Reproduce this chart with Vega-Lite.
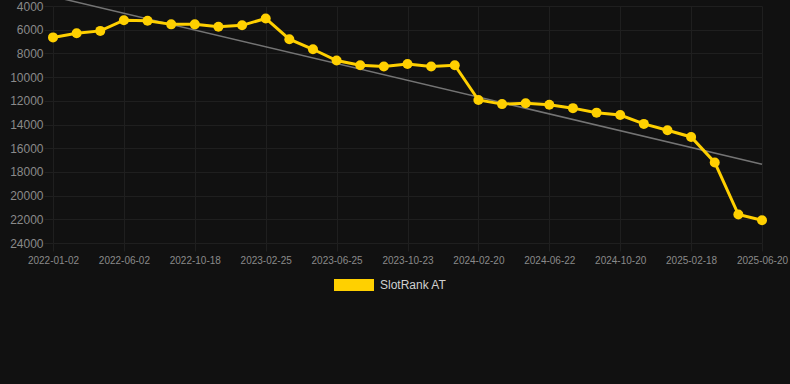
{
  "$schema": "https://vega.github.io/schema/vega-lite/v6.json",
  "width": 737,
  "height": 237,
  "autosize": {"type": "none"},
  "padding": {"left": 53, "top": 6, "right": 0, "bottom": 141},
  "background": "#111111",
  "config": {
    "view": {"stroke": null},
    "font": "Liberation Sans",
    "axis": {
      "domain": false,
      "gridColor": "#1f1f1f",
      "gridWidth": 1,
      "tickColor": "#1f1f1f",
      "tickSize": 9,
      "labelColor": "#8a8a8a",
      "labelFont": "Liberation Sans",
      "labelOverlap": false,
      "title": null
    }
  },
  "datasets": {
    "main": [
      {"date": "2022-01-02", "rank": 6650, "series": "SlotRank AT"},
      {"date": "2022-02-21", "rank": 6300, "series": "SlotRank AT"},
      {"date": "2022-04-12", "rank": 6100, "series": "SlotRank AT"},
      {"date": "2022-06-02", "rank": 5200, "series": "SlotRank AT"},
      {"date": "2022-07-18", "rank": 5250, "series": "SlotRank AT"},
      {"date": "2022-09-02", "rank": 5550, "series": "SlotRank AT"},
      {"date": "2022-10-18", "rank": 5550, "series": "SlotRank AT"},
      {"date": "2022-12-01", "rank": 5750, "series": "SlotRank AT"},
      {"date": "2023-01-13", "rank": 5630, "series": "SlotRank AT"},
      {"date": "2023-02-25", "rank": 5050, "series": "SlotRank AT"},
      {"date": "2023-04-05", "rank": 6800, "series": "SlotRank AT"},
      {"date": "2023-05-15", "rank": 7650, "series": "SlotRank AT"},
      {"date": "2023-06-25", "rank": 8600, "series": "SlotRank AT"},
      {"date": "2023-08-04", "rank": 9000, "series": "SlotRank AT"},
      {"date": "2023-09-13", "rank": 9100, "series": "SlotRank AT"},
      {"date": "2023-10-23", "rank": 8900, "series": "SlotRank AT"},
      {"date": "2023-12-02", "rank": 9100, "series": "SlotRank AT"},
      {"date": "2024-01-11", "rank": 9000, "series": "SlotRank AT"},
      {"date": "2024-02-20", "rank": 11930, "series": "SlotRank AT"},
      {"date": "2024-04-01", "rank": 12280, "series": "SlotRank AT"},
      {"date": "2024-05-12", "rank": 12200, "series": "SlotRank AT"},
      {"date": "2024-06-22", "rank": 12340, "series": "SlotRank AT"},
      {"date": "2024-08-01", "rank": 12620, "series": "SlotRank AT"},
      {"date": "2024-09-10", "rank": 13000, "series": "SlotRank AT"},
      {"date": "2024-10-20", "rank": 13200, "series": "SlotRank AT"},
      {"date": "2024-11-29", "rank": 13950, "series": "SlotRank AT"},
      {"date": "2025-01-08", "rank": 14480, "series": "SlotRank AT"},
      {"date": "2025-02-18", "rank": 15050, "series": "SlotRank AT"},
      {"date": "2025-03-30", "rank": 17200, "series": "SlotRank AT"},
      {"date": "2025-05-10", "rank": 21600, "series": "SlotRank AT"},
      {"date": "2025-06-20", "rank": 22080, "series": "SlotRank AT"}
    ],
    "trend": [
      {"date": "2022-01-02", "rank": 3200},
      {"date": "2025-06-20", "rank": 17350}
    ]
  },
  "encoding": {
    "x": {
      "field": "date",
      "type": "ordinal",
      "scale": {"type": "point", "range": [0, 709], "padding": 0},
      "axis": {
        "values": ["2022-01-02", "2022-06-02", "2022-10-18", "2023-02-25", "2023-06-25", "2023-10-23", "2024-02-20", "2024-06-22", "2024-10-20", "2025-02-18", "2025-06-20"],
        "labelAngle": 0,
        "labelAlign": "center",
        "labelBaseline": "top",
        "labelFontSize": 10,
        "labelPadding": 4,
        "labelOverlap": false,
        "labelFlush": false,
        "tickSize": 8,
        "grid": true
      }
    },
    "y": {
      "field": "rank",
      "type": "quantitative",
      "scale": {"domain": [4000, 24000], "reverse": true, "nice": false, "zero": false},
      "axis": {
        "values": [4000, 6000, 8000, 10000, 12000, 14000, 16000, 18000, 20000, 22000, 24000],
        "format": "d",
        "labelFontSize": 12,
        "labelPadding": 1,
        "labelOverlap": false,
        "labelFlush": false,
        "labelBaseline": "middle",
        "grid": true
      }
    }
  },
  "layer": [
    {
      "data": {"name": "trend"},
      "mark": {"type": "line", "color": "#747474", "strokeWidth": 1.5, "clip": false}
    },
    {
      "data": {"name": "main"},
      "mark": {"type": "line", "strokeWidth": 3},
      "encoding": {
        "color": {"field": "series", "type": "nominal"}
      }
    },
    {
      "data": {"name": "main"},
      "mark": {"type": "point", "filled": true, "opacity": 1, "size": 100},
      "encoding": {
        "color": {
          "field": "series",
          "type": "nominal",
          "scale": {"range": ["#FFD000"]},
          "legend": {
            "orient": "none",
            "legendX": 281,
            "legendY": 259,
            "title": null,
            "symbolType": "M-1,-0.3L1,-0.3L1,0.3L-1,0.3Z",
            "symbolSize": 1600,
            "symbolStrokeWidth": 0,
            "symbolFillColor": "#FFD000",
            "labelFontSize": 12,
            "labelColor": "#d0d0d0",
            "labelOffset": 6,
            "labelFont": "Liberation Sans"
          }
        }
      }
    }
  ]
}
